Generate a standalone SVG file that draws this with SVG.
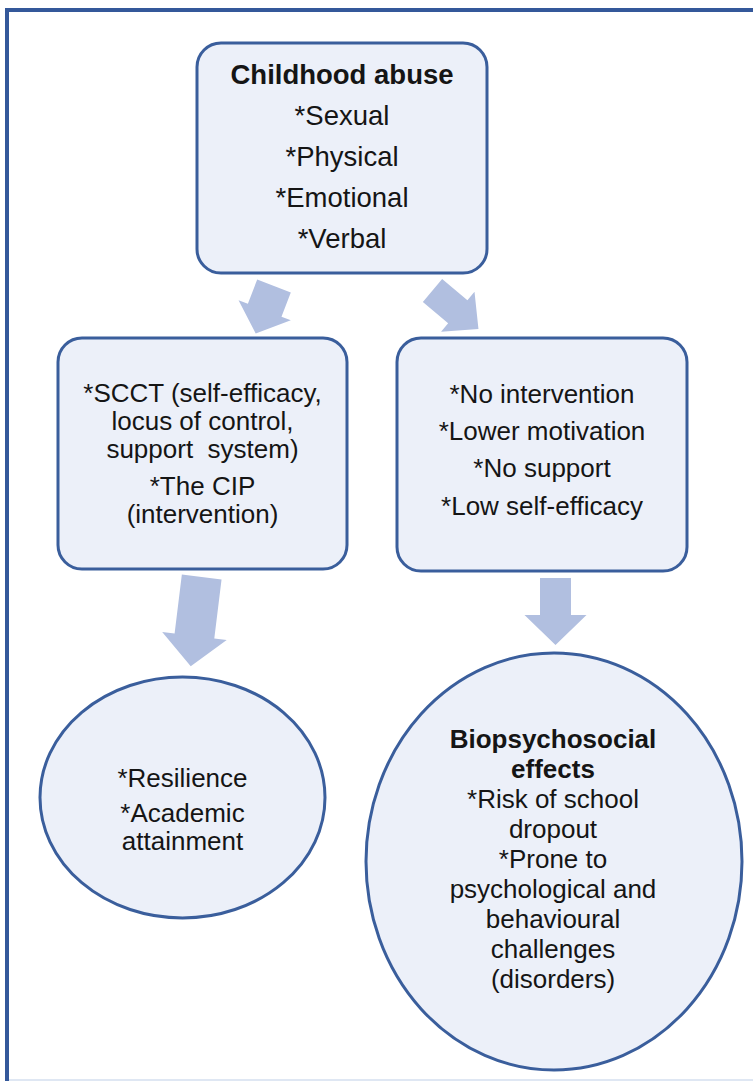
<svg xmlns="http://www.w3.org/2000/svg" width="753" height="1081" viewBox="0 0 753 1081">
<style>
.node{fill:#ecf0f9;stroke:#3a5e9c;stroke-width:3}
.arr{fill:#b1bfe0}
text{font-family:"Liberation Sans",Arial,sans-serif;fill:#151515;text-anchor:middle}
.b{font-weight:bold}
.t27{font-size:27.5px}
.t26{font-size:26px}
</style>
<rect x="0" y="0" width="753" height="1081" fill="#ffffff"/>
<g id="frame">
<line x1="7" y1="10" x2="7" y2="1081" stroke="#34589a" stroke-width="4"/>
<line x1="5" y1="10" x2="753" y2="10" stroke="#34589a" stroke-width="4"/>
<line x1="9" y1="1080" x2="753" y2="1080" stroke="#dfe7f3" stroke-width="2"/>
</g>
<g id="connectors">
<path class="arr" transform="translate(274,286) rotate(21)" d="M-18,0 L18,0 L18,26 L28,26 L0,51 L-28,26 L-18,26 Z"/>
<path class="arr" transform="translate(432.5,290.5) rotate(-50)" d="M-15,0 L15,0 L15,33 L26,33 L0,60 L-26,33 L-15,33 Z"/>
<path class="arr" transform="translate(201.7,577) rotate(7)" d="M-20,0 L20,0 L20,59.5 L32.5,59.5 L0,90 L-32.5,59.5 L-20,59.5 Z"/>
<path class="arr" transform="translate(555.5,578)" d="M-15.5,0 L15.5,0 L15.5,37 L31,37 L0,67 L-31,37 L-15.5,37 Z"/>
</g>
<g id="abuse">
<rect class="node" x="197" y="43" width="290" height="230" rx="24"/>
<text class="b t27" x="342" y="84">Childhood abuse</text>
<text class="t27" x="342" y="125">*Sexual</text>
<text class="t27" x="342" y="166">*Physical</text>
<text class="t27" x="342" y="207">*Emotional</text>
<text class="t27" x="342" y="248">*Verbal</text>
</g>
<g id="scct">
<rect class="node" x="58" y="338" width="289" height="231" rx="24"/>
<text class="t26" x="202.5" y="402">*SCCT (self-efficacy,</text>
<text class="t26" x="202.5" y="430">locus of control,</text>
<text class="t26" x="202.5" y="458" xml:space="preserve">support  system)</text>
<text class="t26" x="202.5" y="495">*The CIP</text>
<text class="t26" x="202.5" y="523">(intervention)</text>
</g>
<g id="nointervention">
<rect class="node" x="397" y="338" width="290" height="233" rx="24"/>
<text class="t26" x="542" y="403">*No intervention</text>
<text class="t26" x="542" y="440">*Lower motivation</text>
<text class="t26" x="542" y="477">*No support</text>
<text class="t26" x="542" y="515">*Low self-efficacy</text>
</g>
<g id="resilience">
<ellipse class="node" cx="182.5" cy="797.5" rx="142.5" ry="120.5"/>
<text class="t26" x="182.5" y="787">*Resilience</text>
<text class="t26" x="182.5" y="822">*Academic</text>
<text class="t26" x="182.5" y="850">attainment</text>
</g>
<g id="biopsychosocial">
<ellipse class="node" cx="554" cy="861.5" rx="188" ry="208.5"/>
<text class="b t26" x="553" y="748">Biopsychosocial</text>
<text class="b t26" x="553" y="778">effects</text>
<text class="t26" x="553" y="808">*Risk of school</text>
<text class="t26" x="553" y="838">dropout</text>
<text class="t26" x="553" y="868">*Prone to</text>
<text class="t26" x="553" y="898">psychological and</text>
<text class="t26" x="553" y="928">behavioural</text>
<text class="t26" x="553" y="958">challenges</text>
<text class="t26" x="553" y="988">(disorders)</text>
</g>
</svg>
